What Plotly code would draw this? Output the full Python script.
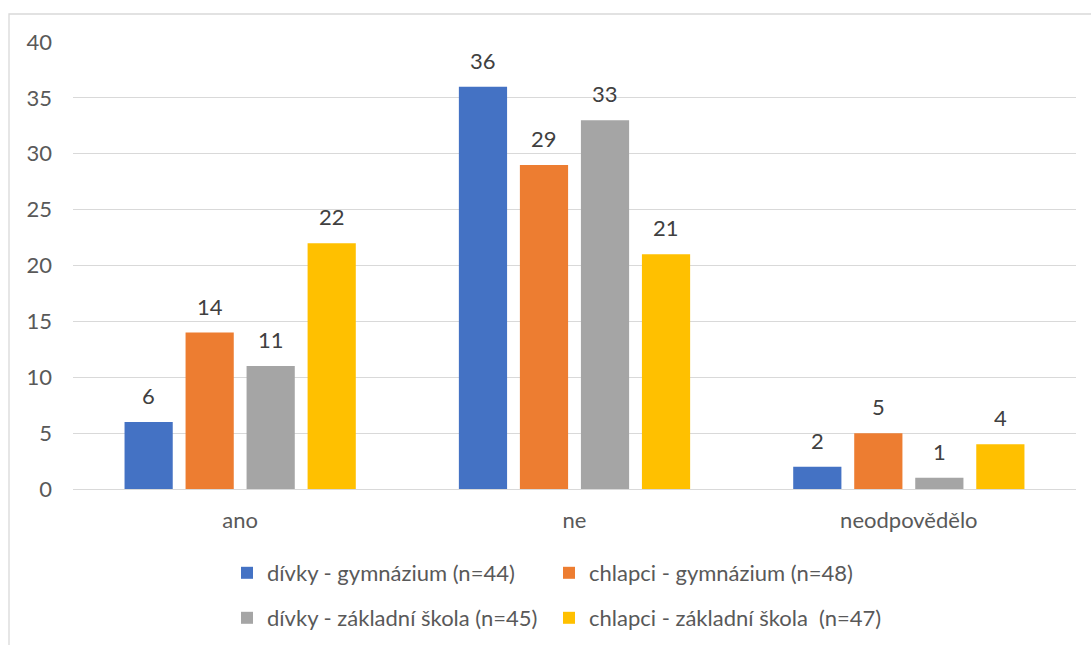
import plotly.graph_objects as go

categories = ["ano", "ne", "neodpovědělo"]
series_names = [
    "dívky - gymnázium (n=44)",
    "chlapci - gymnázium (n=48)",
    "dívky - základní škola (n=45)",
    "chlapci - základní škola  (n=47)",
]
divky_gym = [6, 36, 2]
chlapci_gym = [14, 29, 5]
divky_zs = [11, 33, 1]
chlapci_zs = [22, 21, 4]
y_ticks = [0, 5, 10, 15, 20, 25, 30, 35, 40]

series_values = [divky_gym, chlapci_gym, divky_zs, chlapci_zs]
colors = ["#4472C4", "#ED7D31", "#A5A5A5", "#FFC000"]
legend_ids = ["legend", "legend2", "legend3", "legend4"]

FONT = "Lato"
FS = 22
BARGAP = 0.27
BARGROUPGAP = 0.21

fig = go.Figure()
for name, vals, col, lg in zip(series_names, series_values, colors, legend_ids):
    fig.add_trace(go.Bar(
        x=categories, y=vals, name=name,
        marker=dict(color=col, line=dict(width=0)),
        legend=lg,
    ))

# value labels above each bar, placed at the grouped-bar centres
n = len(series_values)
group_w = 1 - BARGAP
slot = group_w / n
annotations = []
for i, vals in enumerate(series_values):
    for ci, v in enumerate(vals):
        xc = ci - group_w / 2 + slot * (i + 0.5)
        annotations.append(dict(
            x=xc, y=v, xref="x", yref="y", text=str(v), showarrow=False,
            yanchor="bottom", yshift=11,
            font=dict(family=FONT, size=FS, color="#404040"),
        ))

W, H = 1091, 645
ml, mr, mt, mb = 73, 15, 42, 156
pw, ph = W - ml - mr, H - mt - mb

def px_x(p):
    return (p - ml) / pw

def px_y(p):
    return (H - mb - p) / ph

# legend laid out as a 2 x 2 grid: (left edge px, row centre px)
legend_slots = [(227, 573), (549, 573), (227, 618), (549, 618)]

def legend_box(left, row):
    return dict(
        orientation="v", xanchor="left", yanchor="middle",
        x=px_x(left), y=px_y(row),
        font=dict(family=FONT, size=FS, color="#595959"),
        bgcolor="rgba(0,0,0,0)",
    )

legend_layout = {lid: legend_box(*slot_xy) for lid, slot_xy in zip(legend_ids, legend_slots)}

fig.update_layout(
    width=W, height=H,
    margin=dict(l=ml, r=mr, t=mt, b=mb, autoexpand=False),
    paper_bgcolor="white", plot_bgcolor="white",
    barmode="group", bargap=BARGAP, bargroupgap=BARGROUPGAP,
    font=dict(family=FONT, size=FS, color="#595959"),
    annotations=annotations,
    showlegend=True,
    **legend_layout,
    xaxis=dict(
        type="category", showgrid=False, showline=False, ticks="",
        tickfont=dict(family=FONT, size=FS, color="#595959"),
        ticklabelstandoff=16,
    ),
    yaxis=dict(
        range=[0, 40], tickvals=y_ticks, showgrid=True, gridcolor="#D9D9D9", gridwidth=1.3,
        zeroline=True, zerolinecolor="#D9D9D9", zerolinewidth=1.3,
        showline=False, ticks="",
        tickfont=dict(family=FONT, size=FS, color="#595959"),
        ticklabelstandoff=20,
    ),
    shapes=[dict(
        type="rect", xref="paper", yref="paper",
        x0=px_x(9), x1=px_x(1095), y0=px_y(650), y1=px_y(14),
        line=dict(color="#D9D9D9", width=1.3), fillcolor="rgba(0,0,0,0)", layer="below",
    )],
)

fig.write_html("out.html")
